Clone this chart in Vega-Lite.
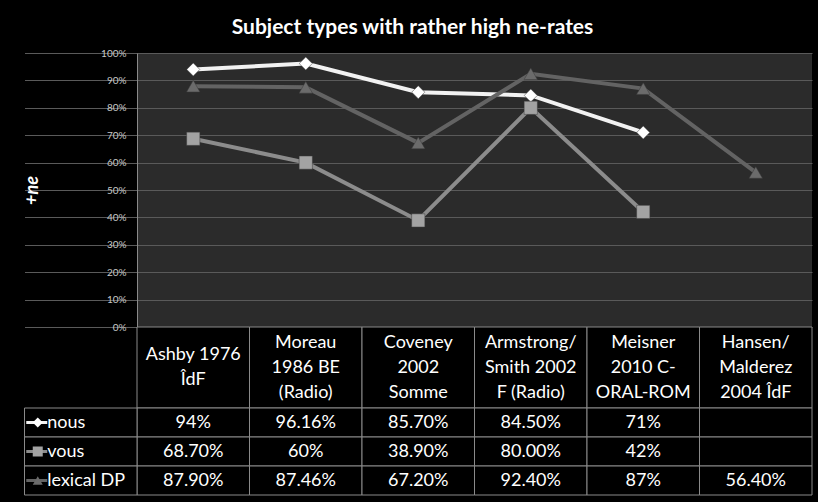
{
  "$schema": "https://vega.github.io/schema/vega-lite/v6.json",
  "width": 675,
  "height": 274,
  "autosize": "none",
  "padding": {"left": 137, "top": 53, "right": 6, "bottom": 175},
  "background": "#000000",
  "view": {"fill": "#2b2b2b", "stroke": null},
  "title": {
    "text": "Subject types with rather high ne-rates",
    "color": "#ffffff",
    "font": "Lato",
    "fontSize": 21,
    "fontWeight": "bold",
    "anchor": "middle",
    "frame": "group",
    "dx": -62,
    "offset": 10
  },
  "datasets": {
    "results": [
      {"study": "Ashby 1976\nÎdF", "series": "nous", "value": 0.94, "label": "94%"},
      {"study": "Moreau\n1986 BE\n(Radio)", "series": "nous", "value": 0.9616, "label": "96.16%"},
      {"study": "Coveney\n2002\nSomme", "series": "nous", "value": 0.857, "label": "85.70%"},
      {"study": "Armstrong/\nSmith 2002\nF (Radio)", "series": "nous", "value": 0.845, "label": "84.50%"},
      {"study": "Meisner\n2010 C-\nORAL-ROM", "series": "nous", "value": 0.71, "label": "71%"},
      {"study": "Hansen/\nMalderez\n2004 ÎdF", "series": "nous", "value": null, "label": ""},
      {"study": "Ashby 1976\nÎdF", "series": "vous", "value": 0.687, "label": "68.70%"},
      {"study": "Moreau\n1986 BE\n(Radio)", "series": "vous", "value": 0.6, "label": "60%"},
      {"study": "Coveney\n2002\nSomme", "series": "vous", "value": 0.389, "label": "38.90%"},
      {"study": "Armstrong/\nSmith 2002\nF (Radio)", "series": "vous", "value": 0.8, "label": "80.00%"},
      {"study": "Meisner\n2010 C-\nORAL-ROM", "series": "vous", "value": 0.42, "label": "42%"},
      {"study": "Hansen/\nMalderez\n2004 ÎdF", "series": "vous", "value": null, "label": ""},
      {"study": "Ashby 1976\nÎdF", "series": "lexical DP", "value": 0.879, "label": "87.90%"},
      {"study": "Moreau\n1986 BE\n(Radio)", "series": "lexical DP", "value": 0.8746, "label": "87.46%"},
      {"study": "Coveney\n2002\nSomme", "series": "lexical DP", "value": 0.672, "label": "67.20%"},
      {"study": "Armstrong/\nSmith 2002\nF (Radio)", "series": "lexical DP", "value": 0.924, "label": "92.40%"},
      {"study": "Meisner\n2010 C-\nORAL-ROM", "series": "lexical DP", "value": 0.87, "label": "87%"},
      {"study": "Hansen/\nMalderez\n2004 ÎdF", "series": "lexical DP", "value": 0.564, "label": "56.40%"}
    ]
  },
  "data": {"name": "results"},
  "encoding": {
    "x": {
      "field": "study",
      "type": "nominal",
      "axis": null,
      "scale": {
        "type": "band",
        "domain": ["_legend", "Ashby 1976\nÎdF", "Moreau\n1986 BE\n(Radio)", "Coveney\n2002\nSomme", "Armstrong/\nSmith 2002\nF (Radio)", "Meisner\n2010 C-\nORAL-ROM", "Hansen/\nMalderez\n2004 ÎdF"],
        "range": [-112.5, 675],
        "paddingInner": 0,
        "paddingOuter": 0
      }
    }
  },
  "layer": [
    {
      "mark": {"type": "line", "strokeWidth": 4},
      "encoding": {
        "y": {
          "field": "value",
          "type": "quantitative",
          "scale": {"domain": [0, 1], "nice": false},
          "axis": {
            "values": [0, 0.1, 0.2, 0.3, 0.4, 0.5, 0.6, 0.7, 0.8, 0.9, 1],
            "format": ".0%",
            "grid": true,
            "gridColor": "#5a5a5a",
            "gridWidth": 1,
            "gridOpacity": 1,
            "ticks": false,
            "domain": true,
            "domainColor": "#8a8a8a",
            "labelColor": "#c8c8c8",
            "labelFont": "Lato",
            "labelFontSize": 10,
            "labelPadding": 11,
            "title": "+ne",
            "titleColor": "#ffffff",
            "titleFont": "Lato",
            "titleFontSize": 18,
            "titleFontWeight": "bold",
            "titleFontStyle": "italic",
            "titleX": -105,
            "titleY": 137,
            "titleAngle": -90,
            "titleAlign": "center",
            "titleBaseline": "middle"
          }
        },
        "color": {
          "field": "series",
          "type": "nominal",
          "legend": null,
          "scale": {"domain": ["nous", "vous", "lexical DP"], "range": ["#f2f2f2", "#8c8c8c", "#636363"]}
        }
      }
    },
    {
      "mark": {"type": "point", "filled": true, "opacity": 1, "stroke": "#3a3a3a", "strokeWidth": 0.5},
      "encoding": {
        "y": {"field": "value", "type": "quantitative", "scale": {"domain": [0, 1], "nice": false}, "axis": null},
        "shape": {
          "field": "series",
          "type": "nominal",
          "legend": null,
          "scale": {"domain": ["nous", "vous", "lexical DP"], "range": ["diamond", "square", "triangle-up"]}
        },
        "fill": {
          "field": "series",
          "type": "nominal",
          "legend": null,
          "scale": {"domain": ["nous", "vous", "lexical DP"], "range": ["#ffffff", "#a3a3a3", "#6b6b6b"]}
        },
        "size": {
          "field": "series",
          "type": "nominal",
          "legend": null,
          "scale": {"domain": ["nous", "vous", "lexical DP"], "range": [170, 180, 210]}
        }
      }
    },
    {
      "transform": [{"filter": "datum.series === 'nous'"}],
      "mark": {"type": "rect", "fill": "#000000", "stroke": "#8a8a8a", "strokeWidth": 1},
      "encoding": {
        "y": {"datum": "header", "type": "nominal", "axis": null, "scale": {"type": "band", "domain": ["header"], "range": [274, 355], "paddingInner": 0, "paddingOuter": 0}}
      }
    },
    {
      "transform": [{"filter": "datum.series === 'nous' && !test(/^Ashby/, datum.study)"}],
      "mark": {"type": "text", "color": "#ffffff", "font": "Lato", "fontSize": 18, "lineBreak": "\n", "lineHeight": 25, "baseline": "middle", "align": "center", "dy": -25},
      "encoding": {
        "y": {"datum": "header", "type": "nominal", "axis": null, "scale": {"type": "band", "domain": ["header"], "range": [274, 355], "paddingInner": 0, "paddingOuter": 0}},
        "text": {"field": "study"}
      }
    },
    {
      "transform": [{"filter": "datum.series === 'nous' && test(/^Ashby/, datum.study)"}],
      "mark": {"type": "text", "color": "#ffffff", "font": "Lato", "fontSize": 18, "lineBreak": "\n", "lineHeight": 25, "baseline": "middle", "align": "center", "dy": -12.5},
      "encoding": {
        "y": {"datum": "header", "type": "nominal", "axis": null, "scale": {"type": "band", "domain": ["header"], "range": [274, 355], "paddingInner": 0, "paddingOuter": 0}},
        "text": {"field": "study"}
      }
    },
    {
      "mark": {"type": "rect", "fill": "#000000", "stroke": "#8a8a8a", "strokeWidth": 1},
      "encoding": {
        "y": {"field": "series", "type": "nominal", "axis": null, "scale": {"type": "band", "domain": ["nous", "vous", "lexical DP"], "range": [355, 442], "paddingInner": 0, "paddingOuter": 0}}
      }
    },
    {
      "mark": {"type": "text", "color": "#ffffff", "font": "Lato", "fontSize": 18, "baseline": "middle", "align": "center"},
      "encoding": {
        "y": {"field": "series", "type": "nominal", "axis": null, "scale": {"type": "band", "domain": ["nous", "vous", "lexical DP"], "range": [355, 442], "paddingInner": 0, "paddingOuter": 0}},
        "text": {"field": "label"}
      }
    },
    {
      "transform": [{"aggregate": [{"op": "count", "as": "n"}], "groupby": ["series"]}],
      "layer": [
        {
          "mark": {"type": "rect", "fill": "#000000", "stroke": "#8a8a8a", "strokeWidth": 1},
          "encoding": {
            "x": {"datum": "_legend", "type": "nominal"},
            "y": {"field": "series", "type": "nominal", "axis": null, "scale": {"type": "band", "domain": ["nous", "vous", "lexical DP"], "range": [355, 442], "paddingInner": 0, "paddingOuter": 0}}
          }
        },
        {
          "mark": {"type": "text", "color": "#ffffff", "font": "Lato", "fontSize": 18, "baseline": "middle", "align": "left", "dx": -33.5},
          "encoding": {
            "x": {"datum": "_legend", "type": "nominal"},
            "y": {"field": "series", "type": "nominal", "axis": null, "scale": {"type": "band", "domain": ["nous", "vous", "lexical DP"], "range": [355, 442], "paddingInner": 0, "paddingOuter": 0}},
            "text": {"field": "series"}
          }
        },
        {
          "mark": {"type": "point", "shape": "M-1,0L1,0", "filled": false, "strokeWidth": 3, "size": 441, "opacity": 1, "xOffset": -44},
          "encoding": {
            "x": {"datum": "_legend", "type": "nominal"},
            "y": {"field": "series", "type": "nominal", "axis": null, "scale": {"type": "band", "domain": ["nous", "vous", "lexical DP"], "range": [355, 442], "paddingInner": 0, "paddingOuter": 0}},
            "color": {"field": "series", "type": "nominal", "legend": null}
          }
        },
        {
          "mark": {"type": "point", "filled": true, "opacity": 1, "xOffset": -43},
          "encoding": {
            "x": {"datum": "_legend", "type": "nominal"},
            "y": {"field": "series", "type": "nominal", "axis": null, "scale": {"type": "band", "domain": ["nous", "vous", "lexical DP"], "range": [355, 442], "paddingInner": 0, "paddingOuter": 0}},
            "shape": {"field": "series", "type": "nominal", "legend": null},
            "fill": {"field": "series", "type": "nominal", "legend": null},
            "size": {"value": 100}
          }
        }
      ]
    }
  ],
  "resolve": {"scale": {"y": "independent"}}
}
